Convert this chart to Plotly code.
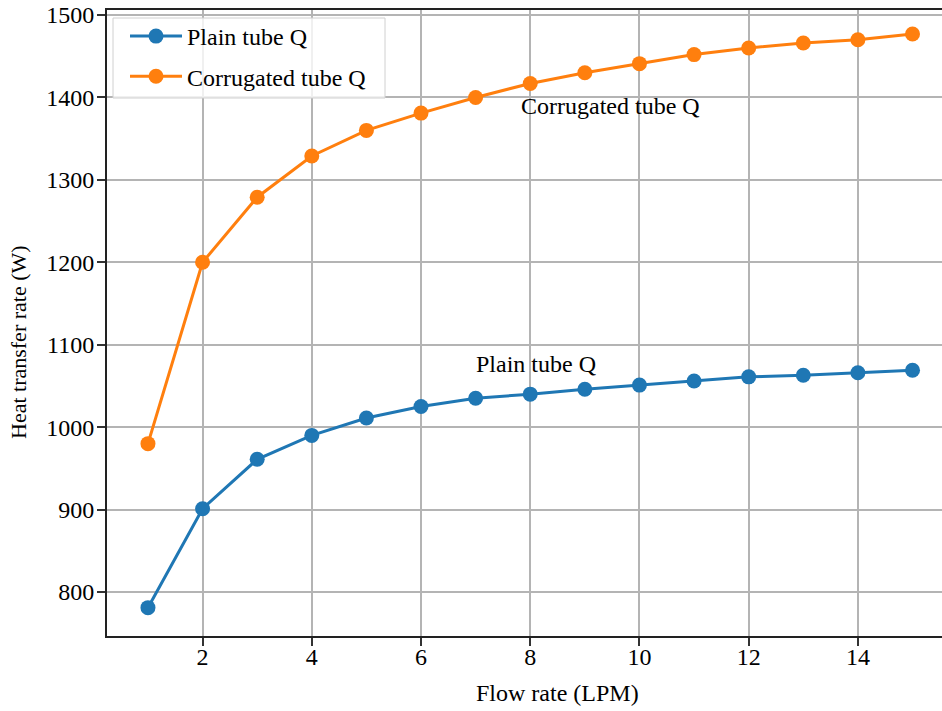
import plotly.graph_objects as go

flow = [1, 2, 3, 4, 5, 6, 7, 8, 9, 10, 11, 12, 13, 14, 15]
plain_q = [781, 901, 961, 990, 1011, 1025, 1035, 1040, 1046, 1051, 1056, 1061, 1063, 1066, 1069]
corr_q = [980, 1200, 1279, 1329, 1360, 1381, 1400, 1417, 1430, 1441, 1452, 1460, 1466, 1470, 1477]
x_ticks = [2, 4, 6, 8, 10, 12, 14]
y_ticks = [800, 900, 1000, 1100, 1200, 1300, 1400, 1500]

FONT = "Liberation Serif, Times New Roman, serif"
BLUE = "#1f77b4"
ORANGE = "#ff7f0e"

W, H = 942, 711
L, T, B = 107, 10, 75

def px(xp):
    return (xp - L) / (W - L)

def py(yp):
    return (H - B - yp) / (H - B - T)

fig = go.Figure()
fig.add_trace(go.Scatter(x=flow, y=plain_q, mode="lines+markers", name="Plain tube Q",
                         legendgroup="a",
                         line=dict(color=BLUE, width=3), marker=dict(size=15, color=BLUE)))
fig.add_trace(go.Scatter(x=flow, y=corr_q, mode="lines+markers", name="Corrugated tube Q",
                         legendgroup="b",
                         line=dict(color=ORANGE, width=3), marker=dict(size=15, color=ORANGE)))

fig.add_annotation(x=7.8, y=1383, text="Corrugated tube Q", showarrow=False, yshift=-10,
                   xanchor="left", yanchor="bottom", font=dict(family=FONT, size=24, color="black"))
fig.add_annotation(x=6.97, y=1069, text="Plain tube Q", showarrow=False, yshift=-9,
                   xanchor="left", yanchor="bottom", font=dict(family=FONT, size=24, color="black"))

# axis titles
fig.add_annotation(xref="paper", yref="paper", x=px(557), y=py(693), text="Flow rate (LPM)",
                   showarrow=False, xanchor="center", yanchor="middle",
                   font=dict(family=FONT, size=24, color="black"))
fig.add_annotation(xref="paper", yref="paper", x=px(18), y=py(342), text="Heat transfer rate (W)",
                   showarrow=False, xanchor="center", yanchor="middle", textangle=-90,
                   font=dict(family=FONT, size=22, color="black"))

# legend frame (matplotlib style box)
fig.add_shape(type="rect", xref="paper", yref="paper",
              x0=px(113), x1=px(385), y0=py(98), y1=py(18),
              line=dict(color="#d0d0d0", width=1), fillcolor="rgba(255,255,255,0.8)", layer="above")

fig.update_layout(
    width=W, height=H,
    margin=dict(l=L, r=0, t=T, b=B),
    paper_bgcolor="white", plot_bgcolor="white",
    font=dict(family=FONT, size=24, color="black"),
    showlegend=True,
    legend=dict(x=px(125), y=py(14), xanchor="left", yanchor="top", itemwidth=52,
                bgcolor="rgba(0,0,0,0)", borderwidth=0,
                font=dict(family=FONT, size=24, color="black"), tracegroupgap=6),
)
fig.update_xaxes(range=[0.25, 15.54], tickvals=x_ticks, showgrid=True, gridcolor="#b4b4b4", gridwidth=2,
                 showline=True, linecolor="#222", linewidth=2, mirror=True,
                 ticks="outside", ticklen=8, tickwidth=2, tickcolor="#333", ticklabelstandoff=-10,
                 zeroline=False, tickfont=dict(family=FONT, size=24))
fig.update_yaxes(range=[746.6, 1506.1], tickvals=y_ticks, showgrid=True, gridcolor="#b4b4b4", gridwidth=2,
                 showline=True, linecolor="#222", linewidth=2, mirror=False,
                 ticks="outside", ticklen=8, tickwidth=2, tickcolor="#333", ticklabelstandoff=-2,
                 zeroline=False, tickfont=dict(family=FONT, size=24))

fig.write_html("out.html")
